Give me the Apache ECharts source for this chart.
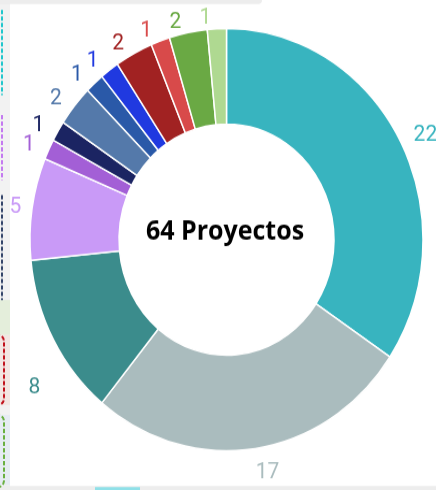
<!DOCTYPE html>
<html>
<head>
<meta charset="utf-8">
<script src="https://cdn.jsdelivr.net/npm/echarts@6/dist/echarts.min.js"></script>
<style>
html,body{margin:0;padding:0;background:#fff;width:436px;height:490px;}
#wrap{position:relative;width:436px;height:490px;overflow:hidden;}
#c{position:absolute;left:0;top:0;width:436px;height:456px;transform:scaleY(1.0746);transform-origin:0 0;}
</style>
</head>
<body>
<div id="wrap"><div id="c"></div></div>
<script>
// Data
const categories = ['Grupo 1','Grupo 2','Grupo 3','Grupo 4','Grupo 5','Grupo 6','Grupo 7','Grupo 8','Grupo 9','Grupo 10','Grupo 11','Grupo 12','Grupo 13'];
const values = [22, 17, 8, 5, 1, 1, 2, 1, 1, 2, 1, 2, 1];
const sliceColors = ['#38b4bf','#aabcbe','#3b8c8c','#c99af7','#a35fd6','#1b2462','#5479aa','#2a59a8','#2039e0','#a12222','#d84a4a','#6aa944','#afd991'];
const centerText = '64 Proyectos';

// label nudges (style only)
const labelNudge = {1: [-6, 12], 2: [1, 40], 3: [4, 0]};

const SY = 1.0746;
const chart = echarts.init(document.getElementById('c'), null, {renderer: 'canvas'});

const dataItems = categories.map((n, i) => ({
  name: n,
  value: values[i],
  itemStyle: {color: sliceColors[i]},
  label: {color: sliceColors[i]}
}));

const deco = [
  {type: 'rect', shape: {x: 0, y: 0, width: 10, height: 456}, style: {fill: '#f2f2f2'}, silent: true},
  {type: 'rect', shape: {x: 0, y: 300/SY, width: 10, height: 35/SY}, style: {fill: '#e4eedb'}, silent: true},
  {type: 'rect', shape: {x: 0, y: 335/SY, width: 10, height: 70/SY}, style: {fill: '#f3e6e2'}, silent: true},
  {type: 'rect', shape: {x: 0, y: 415/SY, width: 10, height: 70/SY}, style: {fill: '#e6ecf3'}, silent: true},
  {type: 'rect', shape: {x: 0, y: 0, width: 262, height: 4/SY, r: [0, 0, 4, 0]}, style: {fill: '#ededed'}, silent: true},
  {type: 'rect', shape: {x: 0, y: 486/SY, width: 436, height: 4/SY}, style: {fill: '#ededed'}, silent: true},
  {type: 'rect', shape: {x: 95, y: 487/SY, width: 45, height: 3/SY}, style: {fill: '#8fe0e8'}, silent: true},
  {type: 'line', shape: {x1: 2, y1: 10/SY, x2: 2, y2: 95/SY}, style: {stroke: '#1fc6cc', lineWidth: 2, lineDash: [4, 2]}, silent: true},
  {type: 'line', shape: {x1: 2, y1: 115/SY, x2: 2, y2: 180/SY}, style: {stroke: '#c47af0', lineWidth: 2, lineDash: [4, 2]}, silent: true},
  {type: 'line', shape: {x1: 2, y1: 195/SY, x2: 2, y2: 300/SY}, style: {stroke: '#34456a', lineWidth: 2, lineDash: [4, 2]}, silent: true},
  {type: 'rect', shape: {x: -10, y: 335/SY, width: 14, height: 70/SY, r: 6}, style: {fill: 'none', stroke: '#c0101a', lineWidth: 2, lineDash: [4, 2]}, silent: true},
  {type: 'rect', shape: {x: -10, y: 415/SY, width: 14, height: 72/SY, r: 6}, style: {fill: 'none', stroke: '#6ab040', lineWidth: 2, lineDash: [4, 2]}, silent: true},
  {type: 'text', x: 225, y: 232/SY, style: {text: centerText, fill: '#000', font: 'bold 25px "Open Sans", sans-serif', align: 'center', verticalAlign: 'middle'}, silent: true, z: 10}
];

chart.setOption({
  animation: false,
  backgroundColor: '#ffffff',
  graphic: deco,
  series: [{
    type: 'pie',
    center: [226.5, 223],
    radius: [107.5, 196.5],
    startAngle: 90,
    clockwise: true,
    avoidLabelOverlap: false,
    itemStyle: {borderColor: '#ffffff', borderWidth: 1.5},
    label: {
      show: true,
      position: 'outside',
      formatter: '{c}',
      fontFamily: 'Roboto, "Liberation Sans", sans-serif',
      fontWeight: 'normal',
      fontSize: 21,
      distanceToLabelLine: 5
    },
    labelLine: {show: false, length: 10, length2: 0},
    labelLayout: function (p) {
      const n = labelNudge[p.dataIndex];
      return n ? {dx: n[0], dy: n[1]} : {};
    },
    emphasis: {disabled: true},
    data: dataItems
  }]
});
</script>
</body>
</html>
